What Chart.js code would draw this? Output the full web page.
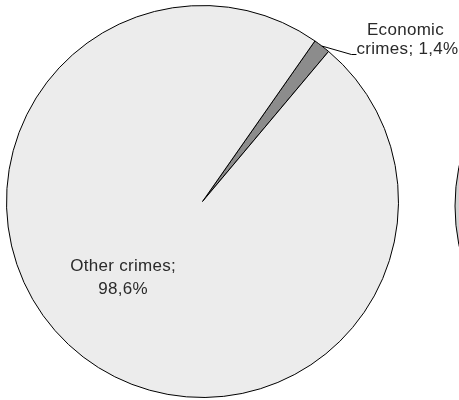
<!DOCTYPE html>
<html>
<head>
<meta charset="utf-8">
<script src="https://cdn.jsdelivr.net/npm/chart.js@4/dist/chart.umd.min.js"></script>
<style>
    html, body { margin: 0; padding: 0; background: #fff; overflow: hidden; }
    #wrap { position: relative; width: 459px; height: 400px; overflow: hidden; }
    #crimeChart { position: absolute; left: 0; top: 0; }
    #nextChart { position: absolute; left: 453px; top: 6px; }
</style>
</head>
<body>
<div id="wrap">
    <canvas id="crimeChart" width="459" height="400"></canvas>
    <canvas id="nextChart" width="400" height="400"></canvas>
</div>
<script>
// Share of crimes by type
const categories = ['Economic crimes', 'Other crimes'];
const shares = [1.4, 98.6];
const sliceColors = ['#8c8c8c', '#ececec'];

// Neighbouring pie, only its left edge shows
const nextCategories = ['Other crimes'];
const nextShares = [100];
const nextColors = ['#d2d2d2'];

const labelFont = '17px "Liberation Sans", Arial, sans-serif';

function fmt(v) {
    return v.toFixed(1).replace('.', ',') + '%';
}

// Draws the data labels (and the leader line for the thin slice)
const pieLabels = {
    id: 'pieLabels',
    afterDatasetsDraw(chart) {
        const ctx = chart.ctx;
        const arcs = chart.getDatasetMeta(0).data;
        ctx.save();
        ctx.font = labelFont;
        ctx.fillStyle = '#2a2a2a';
        ctx.textAlign = 'center';
        ctx.textBaseline = 'middle';
        if ('letterSpacing' in ctx) ctx.letterSpacing = '0.3px';

        arcs.forEach((arc, i) => {
            const p = arc.getProps(['x', 'y', 'startAngle', 'endAngle', 'outerRadius'], true);
            const r = p.outerRadius;
            const name = categories[i];
            if (shares[i] < 5) {
                // outside label with leader line
                const mid = (p.startAngle + p.endAngle) / 2;
                const ex = p.x + Math.cos(mid) * r;
                const ey = p.y + Math.sin(mid) * r;
                const kx = p.x + r * 0.76;
                const ky = p.y - r * 0.75;
                ctx.strokeStyle = '#000';
                ctx.lineWidth = 1;
                ctx.beginPath();
                ctx.moveTo(ex, ey);
                ctx.lineTo(kx, ky);
                ctx.lineTo(kx + 5, ky);
                ctx.stroke();
                const words = name.split(' ');
                ctx.fillText(words[0], kx + 54, ky - 24);
                ctx.fillText(words.slice(1).join(' ') + '; ' + fmt(shares[i]), kx + 56, ky - 5);
            } else {
                const tx = p.x - r * 0.405;
                const ty = p.y + r * 0.38;
                ctx.fillText(name + ';', tx, ty - 10);
                ctx.fillText(fmt(shares[i]), tx, ty + 13);
            }
        });
        ctx.restore();
    }
};

new Chart(document.getElementById('crimeChart').getContext('2d'), {
    type: 'pie',
    data: {
        labels: categories,
        datasets: [{
            data: shares,
            backgroundColor: sliceColors,
            borderColor: '#000',
            borderWidth: 1
        }]
    },
    options: {
        responsive: false,
        animation: false,
        rotation: 35,
        layout: { padding: { left: 5, right: 59, top: 5, bottom: 2 } },
        plugins: {
            legend: { display: false },
            tooltip: { enabled: false }
        }
    },
    plugins: [pieLabels]
});

new Chart(document.getElementById('nextChart').getContext('2d'), {
    type: 'pie',
    data: {
        labels: nextCategories,
        datasets: [{
            data: nextShares,
            backgroundColor: nextColors,
            borderColor: '#000',
            borderWidth: 1
        }]
    },
    options: {
        responsive: false,
        animation: false,
        layout: { padding: { left: 0, right: 3, top: 3, bottom: 3 } },
        plugins: {
            legend: { display: false },
            tooltip: { enabled: false }
        }
    }
});
</script>
</body>
</html>
